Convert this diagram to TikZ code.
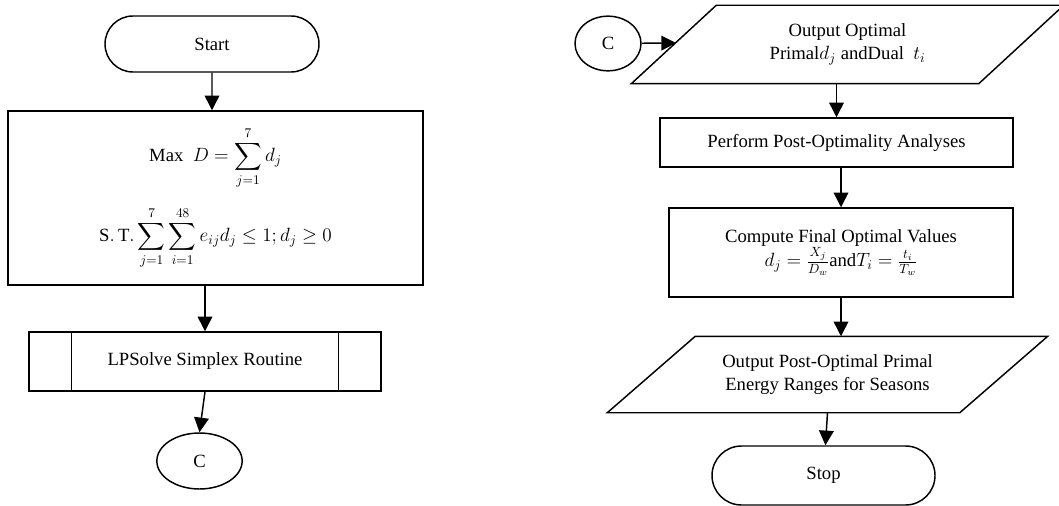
\documentclass[tikz,border=0pt]{standalone}
\usepackage{amsmath}
\usepackage{fontspec}
\setmainfont{Liberation Serif}
\usepackage{tikz}
\usetikzlibrary{arrows.meta,calc,shapes.misc,shapes.geometric}
\newcommand{\slantbox}[2]{\draw ($(#1.south west)+(-#2,0)$) -- ($(#1.north west)+(#2,0)$) -- ($(#1.north east)+(#2,0)$) -- ($(#1.south east)+(-#2,0)$) -- cycle;}

\begin{document}
\begin{tikzpicture}[x=0.75pt,y=-0.75pt,line width=1.1pt,
  every node/.style={font=\fontsize{14}{17}\selectfont},
  terminal/.style={draw,rounded rectangle,inner sep=0pt},
  procbox/.style={draw,rectangle,align=center,inner sep=0pt},
  connector/.style={draw,ellipse,inner sep=0pt},
  iobox/.style={rectangle,align=center,inner sep=0pt},
  arr/.style={-{Triangle[length=11pt,width=11pt]}}]
\useasboundingbox (0,0) rectangle (1059,506);
% left column
\node[terminal,minimum width=160.5pt,minimum height=42pt] (start) at (212,44) {Start};
\node[procbox,minimum width=311.25pt,minimum height=130.5pt] (model) at (215.5,198)
  {$\displaystyle \text{Max}\ \ D=\sum_{j=1}^{7}d_j$\\[13pt]
   $\displaystyle \mathrm{S.\,T.}\sum_{j=1}^{7}\sum_{i=1}^{48}e_{ij}d_j\le 1; d_j\ge 0$};
\node[procbox,minimum width=264pt,minimum height=44.25pt] (lp) at (205,361.5) {LPSolve Simplex Routine};
\draw ($(lp.north west)+(43,0)$) -- ($(lp.south west)+(43,0)$);
\draw ($(lp.north east)+(-43,0)$) -- ($(lp.south east)+(-43,0)$);
\node[connector,minimum width=64pt,minimum height=42pt] (c1) at (199.5,461) {C};
\draw[arr] (start) -- (start |- model.north);
\draw[arr] (lp.north |- model.south) -- (lp);
\draw[arr] (lp.south) -- (c1.north);
% right column
\node[connector,minimum width=49.5pt,minimum height=41pt] (c2) at (608,43.5) {C};
\node[iobox,minimum width=259.5pt,minimum height=57.75pt] (out1) at (847.5,44.5)
  {Output Optimal\\Primal$d_j$\ andDual\ \ $t_i$};
\slantbox{out1}{42.5}
\coordinate (in1) at (676,43);
\node[procbox,minimum width=264.75pt,minimum height=36.75pt] (post) at (836.5,142.5) {Perform Post-Optimality Analyses};
\node[procbox,minimum width=258pt,minimum height=66.75pt] (final) at (841,252.5)
  {Compute Final Optimal Values\\$d_j=\frac{X_j}{D_w}\text{and}T_i=\frac{t_i}{T_w}$};
\node[iobox,minimum width=263.25pt,minimum height=56.25pt] (out2) at (827.5,374.5)
  {Output Post-Optimal Primal\\Energy Ranges for Seasons};
\slantbox{out2}{44}
\node[terminal,minimum width=167.25pt,minimum height=44.25pt] (stop) at (823.5,475.5) {Stop};
\draw[arr] (c2) -- (in1);
\draw[arr] (post.north |- out1.south) -- (post);
\draw[arr] (final.north |- post.south) -- (final);
\draw[arr] (final.south) -- (final.south |- out2.north);
\draw[arr] (out2.south) -- (stop);
\end{tikzpicture}
\end{document}
